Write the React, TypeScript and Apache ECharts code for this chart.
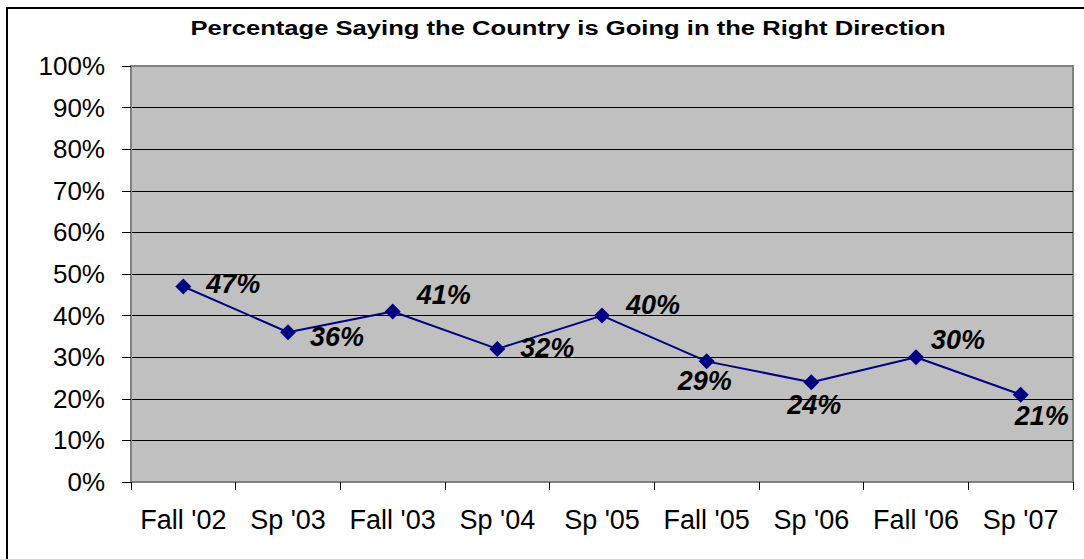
import React, { useEffect, useRef } from "react";
import * as echarts from "echarts";

const categories = ["Fall '02", "Sp '03", "Fall '03", "Sp '04", "Sp '05", "Fall '05", "Sp '06", "Fall '06", "Sp '07"];
const values = [47, 36, 41, 32, 40, 29, 24, 30, 21];
const labelOffsets: [number, number][] = [
  [50, -2], [49, 5], [51, -16], [50, -1], [51, -11], [-2, 20], [3, 23], [42, -17], [21, 21],
];
const titleText = "Percentage Saying the Country is Going in the Right Direction";
const FONT = "Arial, 'Liberation Sans', sans-serif";

export default function App() {
  const ref = useRef<HTMLDivElement>(null);
  useEffect(() => {
    document.body.style.margin = "0";
    const chart = echarts.init(ref.current!, null, { renderer: "svg" });
    const gridColors = Array.from({ length: 11 }, (_, i) => (i === 0 || i === 10 ? "#808080" : "#000000"));
    chart.setOption({
      animation: false,
      backgroundColor: "#ffffff",
      graphic: [
        {
          type: "rect",
          z: -10,
          silent: true,
          shape: { x: 7, y: 8, width: 1100, height: 570 },
          style: { fill: "#ffffff", stroke: "#000000", lineWidth: 2 },
        },
        {
          type: "text",
          x: 568,
          y: 28,
          scaleX: 1.28,
          style: {
            text: titleText,
            fontFamily: FONT,
            fontSize: 20,
            fontWeight: "bold",
            fill: "#000000",
            align: "center",
            verticalAlign: "middle",
          },
        },
      ],
      grid: {
        left: 131,
        top: 66,
        right: 11,
        bottom: 77,
        show: true,
        backgroundColor: "#C0C0C0",
        borderColor: "#808080",
        borderWidth: 2,
      },
      xAxis: {
        type: "category",
        data: categories,
        boundaryGap: true,
        axisLine: { show: true, lineStyle: { color: "#808080", width: 2 } },
        axisTick: { show: true, length: 8, alignWithLabel: false, lineStyle: { color: "#000000", width: 1 } },
        axisLabel: { fontFamily: FONT, fontSize: 27, color: "#000000", margin: 24, interval: 0 },
        splitLine: { show: false },
      },
      yAxis: {
        type: "value",
        min: 0,
        max: 100,
        interval: 10,
        axisLine: { show: true, lineStyle: { color: "#808080", width: 2 } },
        axisTick: { show: true, length: 9, lineStyle: { color: "#000000", width: 1 } },
        axisLabel: { fontFamily: FONT, fontSize: 26, color: "#000000", margin: 26, formatter: "{value}%" },
        splitLine: { show: true, lineStyle: { color: gridColors, width: 1 } },
      },
      series: [
        {
          type: "line",
          data: values.map((v, i) => ({
            value: v,
            label: {
              show: true,
              position: "inside",
              offset: labelOffsets[i],
              formatter: "{c}%",
              fontFamily: FONT,
              fontSize: 27,
              fontWeight: "bold",
              fontStyle: "italic",
              color: "#000000",
            },
          })),
          symbol: "diamond",
          symbolSize: 16,
          itemStyle: { color: "#000080" },
          lineStyle: { color: "#000080", width: 2 },
        },
      ],
    });
    return () => chart.dispose();
  }, []);
  return <div ref={ref} style={{ width: 1084, height: 559 }} />;
}
